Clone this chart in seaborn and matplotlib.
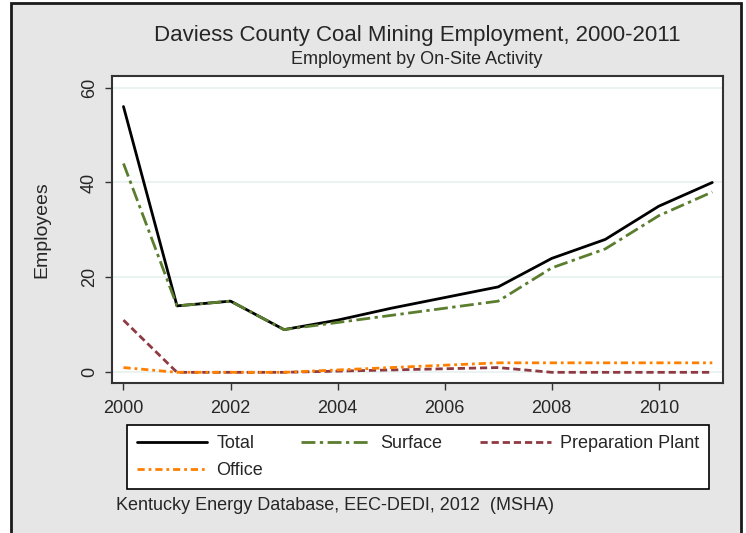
import numpy as np
import pandas as pd
import matplotlib
matplotlib.use("Agg")
import matplotlib.pyplot as plt
import seaborn as sns
from matplotlib.patches import Rectangle

# Data
years = [2000, 2001, 2002, 2003, 2004, 2005, 2006, 2007, 2008, 2009, 2010, 2011]
total = [56, 14, 15, 9, 11, 13.5, 15.75, 18, 24, 28, 35, 40]
surface = [44, 14, 15, 9, 10.5, 12, 13.5, 15, 22, 26, 33, 38]
prep_plant = [11, 0, 0, 0, 0.25, 0.5, 0.75, 1, 0, 0, 0, 0]
office = [1, 0, 0, 0, 0.5, 1, 1.5, 2, 2, 2, 2, 2]
series_names = ["Total", "Surface", "Preparation Plant", "Office"]
x_ticks = [2000, 2002, 2004, 2006, 2008, 2010]
y_ticks = [0, 20, 40, 60]

sns.set_theme(style="white")
plt.rcParams["font.family"] = ["Liberation Sans", "DejaVu Sans"]

W, H = 746, 533
fig = plt.figure(figsize=(W / 100, H / 100), dpi=100)
fig.patch.set_facecolor("white")

# grey graph region with dark frame (cut off at the bottom)
fig.patches.append(Rectangle((11 / W, -0.05), (741 - 11) / W, 1.05 - 3 / H,
                             transform=fig.transFigure, facecolor="#e6e6e6",
                             edgecolor="#1a1a1a", linewidth=2, zorder=-1))

ax = fig.add_axes([111.7 / W, (H - 383) / H, (723 - 111.7) / W, (383 - 75.7) / H])
ax.set_zorder(1)
ax.set_facecolor("white")

df = pd.DataFrame({"year": years, "Total": total, "Surface": surface,
                   "Preparation Plant": prep_plant, "Office": office})

styles = {
    "Total": dict(color="black", linestyle="-", lw=2.0),
    "Surface": dict(color="#5a7d2e", linestyle=(0, (5, 1.6, 1.2, 1.6)), lw=2.0),
    "Preparation Plant": dict(color="#8e3a42", linestyle=(0, (2.6, 1.4)), lw=2.0),
    "Office": dict(color="#ff8000", linestyle=(0, (2.6, 1.4, 1, 1.4)), lw=2.0),
}

for name in series_names:
    sns.lineplot(data=df, x="year", y=name, ax=ax, label=name, **styles[name])

ax.set_xlim(1999.78, 2011.2)
ax.set_ylim(-2.25, 62.5)
ax.set_xticks(x_ticks)
ax.set_yticks(y_ticks)
ax.set_xticklabels([str(t) for t in x_ticks], fontsize=13)
ax.set_yticklabels([str(t) for t in y_ticks], fontsize=13, rotation=90, va="center")
ax.tick_params(axis="both", direction="out", length=5, width=1, color="#333333",
               bottom=True, left=True)
ax.tick_params(axis="x", pad=7)
ax.tick_params(axis="y", pad=5)
ax.yaxis.grid(True, color="#e8f0f0", linewidth=1.2)
ax.set_axisbelow(True)
for sp in ax.spines.values():
    sp.set_color("#333333")
    sp.set_linewidth(1.5)

ax.set_xlabel("")
ax.set_ylabel("Employees", fontsize=14)
ax.yaxis.set_label_coords((50 - 111.7) / (723 - 111.7), 0.5)

ax.get_legend().remove()
handles, labels = ax.get_legend_handles_labels()
# reorder so the legend fills row by row: Total, Surface, Prep / Office
order = [0, 3, 1, 2]
leg = fig.legend([handles[i] for i in order], [labels[i] for i in order],
                 loc="upper center", ncol=3, bbox_to_anchor=(418 / W, 1 - 425 / H),
                 borderaxespad=0, fontsize=13, handlelength=3.9, handletextpad=0.5,
                 columnspacing=2.1, labelspacing=0.55, borderpad=0.55,
                 frameon=True, fancybox=False)
leg.get_frame().set_edgecolor("black")
leg.get_frame().set_linewidth(1.2)
leg.get_frame().set_facecolor("white")
leg.get_frame().set_alpha(1)

fig.text(417 / W, 1 - 35 / H, "Daviess County Coal Mining Employment, 2000-2011",
         ha="center", va="center", fontsize=16)
fig.text(417 / W, 1 - 59 / H, "Employment by On-Site Activity",
         ha="center", va="center", fontsize=13)
fig.text(115.7 / W, 1 - 506 / H, "Kentucky Energy Database, EEC-DEDI, 2012  (MSHA)",
         ha="left", va="center", fontsize=13)

fig.savefig("out.png", dpi=100)
